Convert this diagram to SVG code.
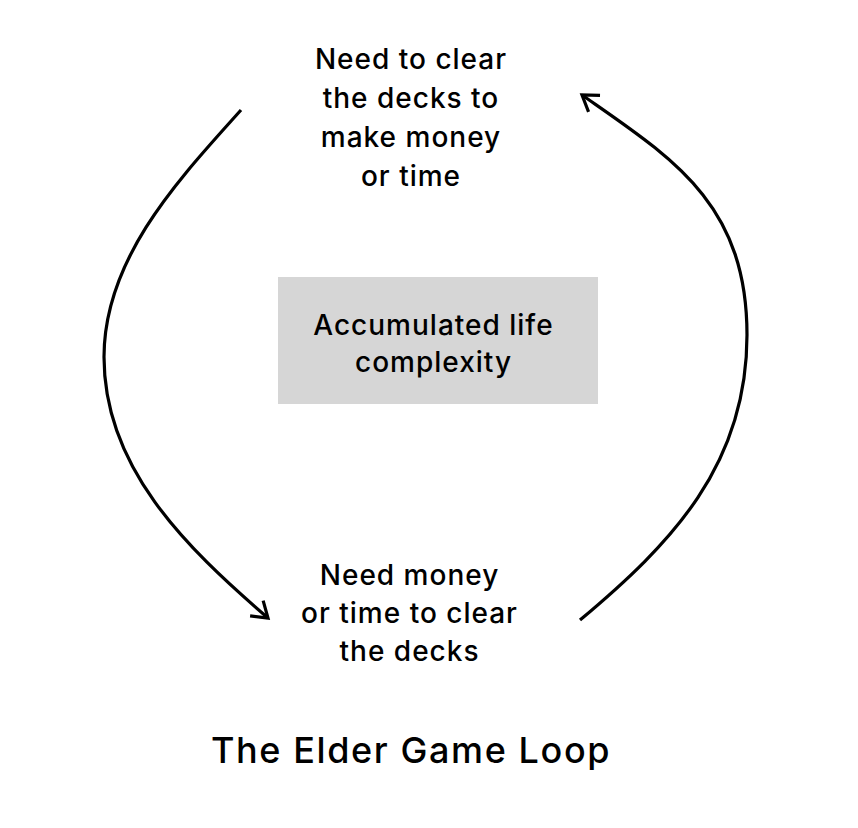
<svg xmlns="http://www.w3.org/2000/svg" width="858" height="828" viewBox="0 0 858 828">
<style>
.t{font-family:Inter,"Liberation Sans",Arial,sans-serif;font-size:28px;font-weight:500;letter-spacing:1px;fill:#000;text-anchor:middle}
.title{font-family:Inter,"Liberation Sans",Arial,sans-serif;font-size:36px;font-weight:500;letter-spacing:1.6px;fill:#000;text-anchor:middle}
.arc{fill:none;stroke:#000;stroke-width:3.2;marker-end:url(#ah)}
</style>
<defs>
<marker id="ah" markerUnits="userSpaceOnUse" orient="auto" markerWidth="40" markerHeight="40" refX="0" refY="0" viewBox="-20 -20 40 40" overflow="visible">
<path d="M-15,-10 L0,0 L-15,10" fill="none" stroke="#000" stroke-width="3.2"/>
</marker>
</defs>
<rect width="858" height="828" fill="#fff"/>
<g id="connectors">
<path class="arc" d="M241,110 C181,177 104,257 104,357 C104,467 184.6,546.3 268,618"/>
<path class="arc" d="M580,620 C672,543 747,465 747,335 C747,203 672,158 582,95"/>
</g>
<g id="node-top">
<text class="t" x="411" y="69">Need to clear</text>
<text class="t" x="411" y="108">the decks to</text>
<text class="t" x="411" y="147">make money</text>
<text class="t" x="411" y="186">or time</text>
</g>
<g id="node-center">
<rect x="278" y="277" width="320" height="127" fill="#d6d6d6"/>
<text class="t" x="433.5" y="335">Accumulated life</text>
<text class="t" x="433.5" y="372">complexity</text>
</g>
<g id="node-bottom">
<text class="t" x="409.5" y="585">Need money</text>
<text class="t" x="409.5" y="623">or time to clear</text>
<text class="t" x="409.5" y="661">the decks</text>
</g>
<g id="title">
<text class="title" x="411" y="763">The Elder Game Loop</text>
</g>
</svg>
